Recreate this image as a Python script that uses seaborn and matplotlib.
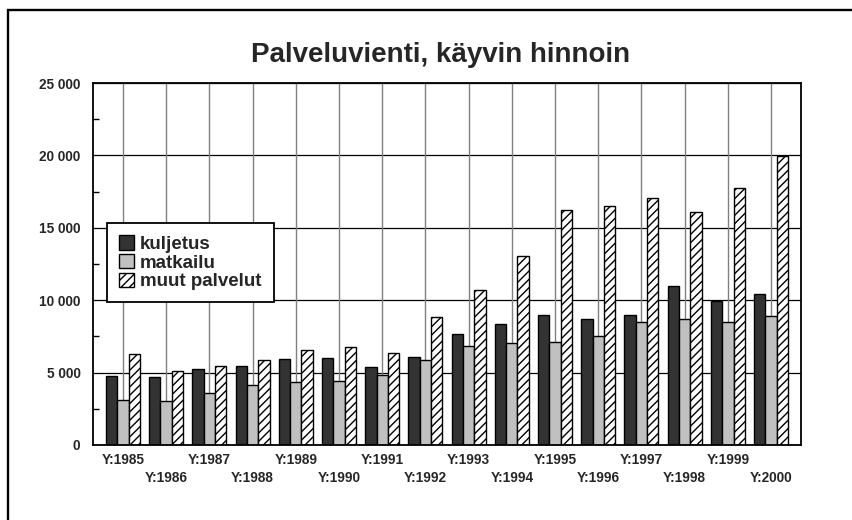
import pandas as pd
import numpy as np
import matplotlib.pyplot as plt
import seaborn as sns
from matplotlib.patches import Patch, Rectangle
from matplotlib.ticker import FuncFormatter, MultipleLocator

# Data (million FIM, current prices)
years = ['1985', '1986', '1987', '1988', '1989', '1990', '1991', '1992',
         '1993', '1994', '1995', '1996', '1997', '1998', '1999', '2000']
kuljetus = [4780, 4730, 5240, 5440, 5910, 6030, 5370, 6070,
            7640, 8350, 9000, 8700, 8950, 10960, 9970, 10430]
matkailu = [3120, 3020, 3600, 4130, 4340, 4450, 4850, 5890,
            6830, 7060, 7130, 7500, 8520, 8700, 8490, 8930]
muut = [6300, 5130, 5440, 5840, 6550, 6740, 6370, 8840,
        10690, 13040, 16230, 16520, 17060, 16090, 17770, 19970]

series_names = ['kuljetus', 'matkailu', 'muut palvelut']
colors = ['#333333', '#c0c0c0', '#ffffff']

data = pd.DataFrame({
    'year': years * 3,
    'value': kuljetus + matkailu + muut,
    'series': [s for s in series_names for _ in years],
})

sns.set_theme(style='white')
plt.rcParams['font.family'] = ['Liberation Sans', 'DejaVu Sans']
plt.rcParams['font.weight'] = 'bold'
plt.rcParams['hatch.linewidth'] = 1.0

fig = plt.figure(figsize=(8.53, 5.2), dpi=100)
ax = fig.add_axes([93 / 853, 75 / 520, 708 / 853, 362 / 520])

sns.barplot(data=data, x='year', y='value', hue='series', palette=colors,
            width=0.79, gap=0, edgecolor='black', linewidth=1.0,
            saturation=1, legend=False, ax=ax, zorder=3)

# hatch the "muut palvelut" bars
n = len(years)
for i, bar in enumerate(ax.patches[:3 * n]):
    if i >= 2 * n:
        bar.set_hatch('////')

ax.set_xlim(-0.694, n - 1 + 0.694)
ax.set_ylim(0, 25000)
ax.set_xlabel('')
ax.set_ylabel('')

# gridlines drawn under the bars
ax.grid(False)
for v in range(0, 25001, 5000):
    ax.axhline(v, color='black', lw=0.9, zorder=0.6)
for i in range(n):
    ax.axvline(i, color='#808080', lw=1.0, zorder=0.6)

ax.yaxis.set_major_locator(MultipleLocator(5000))
ax.yaxis.set_minor_locator(MultipleLocator(2500))
ax.yaxis.set_major_formatter(FuncFormatter(lambda v, p: f'{int(v):,}'.replace(',', ' ')))
ax.tick_params(axis='y', which='major', length=0, pad=9, labelsize=9.8)
ax.tick_params(axis='y', which='minor', direction='in', length=4, width=1, color='black', left=True)
ax.tick_params(axis='x', which='major', direction='in', length=5, width=1, color='#555555',
               bottom=True, pad=6, labelsize=9.8)
ax.set_xticks(range(n))
ax.set_xticklabels([('' if i % 2 == 0 else '\n') + 'Y:' + y for i, y in enumerate(years)],
                   fontweight='bold', linespacing=1.3)
for lab in ax.get_yticklabels():
    lab.set_fontweight('bold')

for s in ax.spines.values():
    s.set_visible(True)
    s.set_color('black')
    s.set_linewidth(1.3)
    s.set_zorder(4)

handles = [Patch(facecolor=c, edgecolor='black', linewidth=1.0, hatch=h)
           for c, h in zip(colors, ['', '', '////'])]
leg = ax.legend(handles, series_names, loc='upper left', bbox_to_anchor=(0.0198, 0.613),
                borderaxespad=0, fancybox=False, frameon=True, framealpha=1,
                edgecolor='black', prop={'size': 13.5, 'weight': 'bold'},
                handlelength=0.8, handleheight=0.8, handletextpad=0.3,
                labelspacing=0.05, borderpad=0.65)
leg.get_frame().set_linewidth(1.3)
leg.set_zorder(5)

fig.text(0.516, 0.881, 'Palveluvienti, käyvin hinnoin', ha='center', va='baseline',
         fontsize=20, fontweight='bold')

# outer frame (right/bottom edges fall outside the picture)
fig.patches.append(Rectangle((8 / 853, -0.1), 1.2, (510 / 520) + 0.1, transform=fig.transFigure,
                             fill=False, edgecolor='black', linewidth=1.7))

fig.savefig('out.png', dpi=100)
